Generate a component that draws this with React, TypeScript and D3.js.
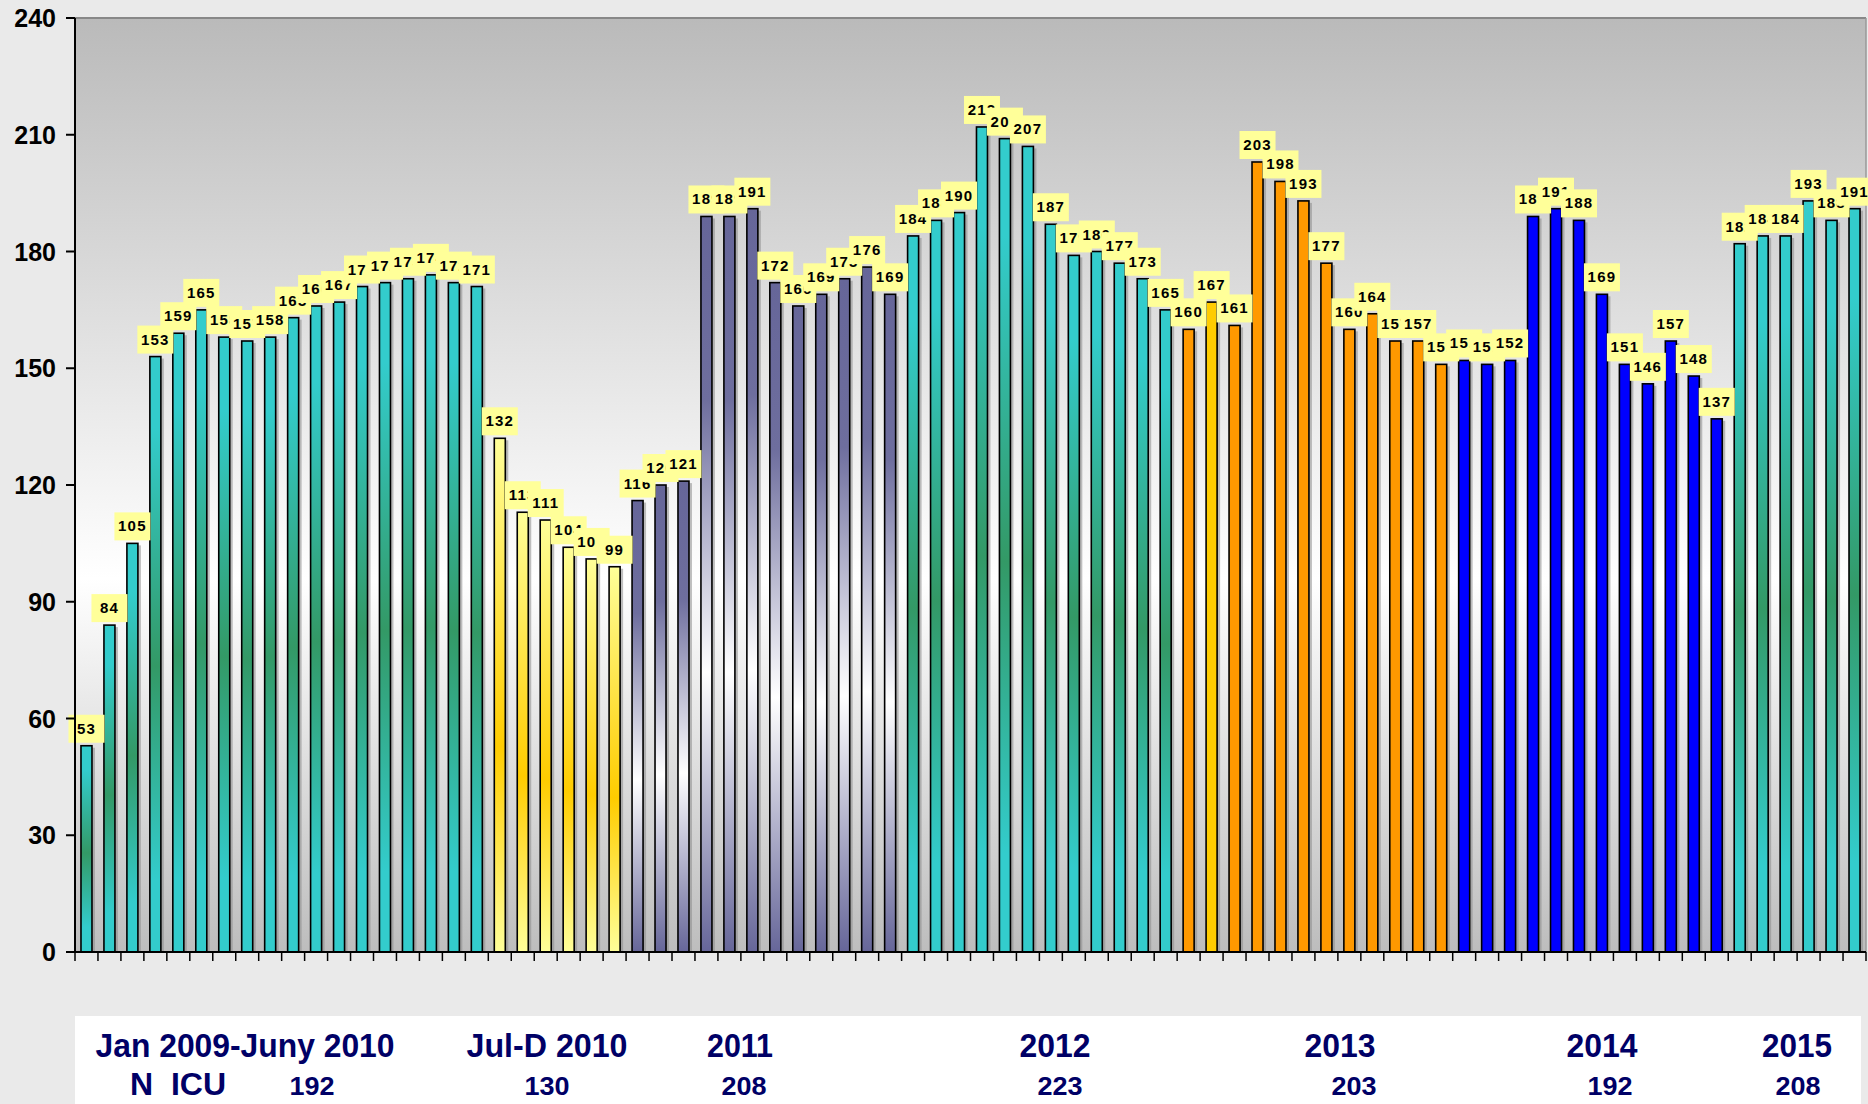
import React, { useEffect } from 'react';
import * as d3 from 'd3';

// monthly N ICU admissions
const jan09Jun10 = [53, 84, 105, 153, 159, 165, 158, 157, 158, 163, 166, 167, 171, 172, 173, 174, 172, 171];
const julDec10 = [132, 113, 111, 104, 101, 99];
const y2011 = [116, 120, 121, 189, 189, 191, 172, 166, 169, 173, 176, 169];
const y2012 = [184, 188, 190, 212, 209, 207, 187, 179, 180, 177, 173, 165];
const y2013 = [160, 167, 161, 203, 198, 193, 177, 160, 164, 157, 157, 151];
const y2014 = [152, 151, 152, 189, 191, 188, 169, 151, 146, 157, 148, 137];
const y2015 = [182, 184, 184, 193, 188, 191];

const groupNames = ['Jan 2009-Juny 2010', 'Jul-D 2010', '2011', '2012', '2013', '2014', '2015'];
const groupTotals = ['192', '130', '208', '223', '203', '192', '208'];
const yTicks = [0, 30, 60, 90, 120, 150, 180, 210, 240];

const groups = [jan09Jun10, julDec10, y2011, y2012, y2013, y2014, y2015];

const W = 1868;
const H = 1104;
const left = 75;
const right = 1866;
const top = 18;
const bottom = 952;

// fill per group (gradient ids or flat colours)
const groupFill = ['url(#teal)', 'url(#yel)', 'url(#purp)', 'url(#teal)', '#ff9900', '#0000ff', 'url(#teal)'];

// bottom captions, centres
const nameX = [245, 547, 740, 1055, 1340, 1602, 1797];
const nameLen = [299, 161, 66, 71, 71, 71, 70];
const totalX = [312, 547, 744, 1060, 1354, 1610, 1798];

const App = () => {
    useEffect(() => {
        document.body.style.margin = '0';
    }, []);

    const bars: any[] = [];
    groups.forEach((g, gi) => {
        g.forEach((v, i) => {
            bars.push({ key: gi + '-' + i, value: v, group: gi, idx: i });
        });
    });

    const x = d3.scaleBand<string>()
        .domain(bars.map(d => d.key))
        .range([left, right])
        .paddingInner(0.5)
        .paddingOuter(0.25);

    const y = d3.scaleLinear().domain([0, 240]).range([bottom, top]);

    const step = x.step();
    const bw = 11;
    const cxOf = (d: any) => (x(d.key) as number) + x.bandwidth() / 2;

    const fillOf = (d: any) => {
        if (d.group === 4 && d.idx === 1) return '#ffcc00';
        return groupFill[d.group];
    };

    const font = '"Liberation Sans", Arial, sans-serif';
    const narrow = '"Liberation Sans Narrow", "Arial Narrow", "Liberation Sans", Arial, sans-serif';

    return (
        <svg width={W} height={H} style={{ display: 'block', background: '#eaeaea' }}>
            <defs>
                <linearGradient id="plotbg" x1="0" y1="0" x2="0" y2="1">
                    <stop offset="0" stopColor="#bababa" />
                    <stop offset="0.6" stopColor="#ffffff" />
                    <stop offset="1" stopColor="#bdbdbd" />
                </linearGradient>
                <linearGradient id="teal" x1="0" y1="0" x2="0" y2="1">
                    <stop offset="0" stopColor="#33cccc" />
                    <stop offset="0.12" stopColor="#33cccc" />
                    <stop offset="0.52" stopColor="#339966" />
                    <stop offset="0.88" stopColor="#33cccc" />
                    <stop offset="1" stopColor="#33cccc" />
                </linearGradient>
                <linearGradient id="yel" x1="0" y1="0" x2="0" y2="1">
                    <stop offset="0" stopColor="#ffff99" />
                    <stop offset="0.6" stopColor="#ffcc00" />
                    <stop offset="1" stopColor="#ffff99" />
                </linearGradient>
                <linearGradient id="purp" x1="0" y1="0" x2="0" y2="1">
                    <stop offset="0" stopColor="#666699" />
                    <stop offset="0.25" stopColor="#6e6e9e" />
                    <stop offset="0.62" stopColor="#ffffff" />
                    <stop offset="1" stopColor="#666699" />
                </linearGradient>
            </defs>

            {/* plot area */}
            <rect x={left} y={top} width={right - left} height={bottom - top} fill="url(#plotbg)" />
            <line x1={left} x2={right} y1={top} y2={top} stroke="#888" strokeWidth={2} />
            <line x1={right} x2={right} y1={top} y2={bottom} stroke="#999" strokeWidth={1.5} />

            {/* bar shadows */}
            {bars.map(d => (
                <rect key={'s' + d.key}
                    x={cxOf(d) - bw / 2 + 3}
                    y={y(d.value) + 2}
                    width={bw}
                    height={bottom - y(d.value) - 2}
                    fill="#8a8a8a" opacity={0.55} />
            ))}

            {/* bars */}
            {bars.map(d => (
                <rect key={'b' + d.key}
                    x={cxOf(d) - bw / 2}
                    y={y(d.value)}
                    width={bw}
                    height={bottom - y(d.value)}
                    fill={fillOf(d)}
                    stroke="#000" strokeWidth={1.6} />
            ))}

            {/* value labels */}
            {bars.map(d => {
                const cx = cxOf(d);
                const ty = y(d.value);
                return (
                    <g key={'l' + d.key}>
                        <rect x={cx - 18} y={ty - 31} width={36} height={28} fill="#ffff99" />
                        <text x={cx} y={ty - 12} textAnchor="middle"
                            fontFamily={font} fontWeight="bold" fontSize={15}
                            letterSpacing={1.2} fill="#000">{d.value}</text>
                    </g>
                );
            })}

            {/* y axis */}
            <line x1={left} x2={left} y1={top} y2={bottom} stroke="#000" strokeWidth={2} />
            {yTicks.map(t => (
                <g key={'yt' + t}>
                    <line x1={left - 9} x2={left} y1={y(t)} y2={y(t)} stroke="#000" strokeWidth={2} />
                    <text x={56} y={y(t)} dy="0.36em" textAnchor="end"
                        fontFamily={font} fontWeight="bold" fontSize={25} fill="#000">{t}</text>
                </g>
            ))}

            {/* x axis */}
            <line x1={left} x2={right} y1={bottom} y2={bottom} stroke="#000" strokeWidth={2} />
            {bars.map((d, i) => (
                <line key={'xt' + d.key}
                    x1={left + i * step} x2={left + i * step}
                    y1={bottom} y2={bottom + 9} stroke="#000" strokeWidth={1.5} />
            ))}
            <line x1={right} x2={right} y1={bottom} y2={bottom + 9} stroke="#000" strokeWidth={1.5} />

            {/* caption box */}
            <rect x={75} y={1016} width={1786} height={88} fill="#fff" />
            {groupNames.map((n, i) => (
                <text key={'gn' + i} x={nameX[i]} y={1057} textAnchor="middle"
                    fontFamily={narrow} fontWeight="bold" fontSize={33} fill="#000066"
                    textLength={nameLen[i]} lengthAdjust="spacingAndGlyphs">{n}</text>
            ))}
            <text x={178} y={1095} textAnchor="middle" fontFamily={narrow} fontWeight="bold"
                fontSize={32} fill="#000066" textLength={96} lengthAdjust="spacingAndGlyphs"
                style={{ whiteSpace: 'pre' }}>N  ICU</text>
            {groupTotals.map((n, i) => (
                <text key={'gt' + i} x={totalX[i]} y={1095} textAnchor="middle"
                    fontFamily={narrow} fontWeight="bold" fontSize={25} fill="#000066"
                    textLength={45} lengthAdjust="spacingAndGlyphs">{n}</text>
            ))}
        </svg>
    );
};

export default App;
